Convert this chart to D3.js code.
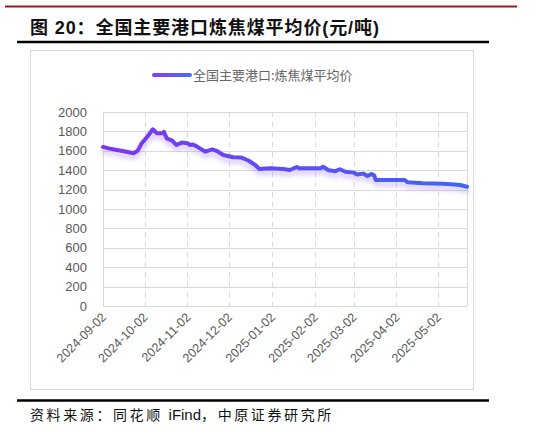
<!DOCTYPE html>
<html>
<head>
<meta charset="utf-8">
<script src="https://cdn.jsdelivr.net/npm/d3@7"></script>
<style>
    body { margin: 0; background: #fff; }
    svg { display: block; }
</style>
</head>
<body>
<div id="chart"></div>
<script>
const title = '图 20：全国主要港口炼焦煤平均价(元/吨)';
const seriesName = '全国主要港口:炼焦煤平均价';
const sourceHead = '资料来源：同花顺 ';
const sourceMid = 'iFind';
const sourceTail = '，中原证券研究所';

// roughly
const dates = [
    '2024-09-02', '2024-09-06', '2024-09-12', '2024-09-19', '2024-09-24', '2024-09-27', '2024-09-30',
    '2024-10-04', '2024-10-08', '2024-10-11', '2024-10-15', '2024-10-16', '2024-10-18', '2024-10-22',
    '2024-10-25', '2024-10-29', '2024-11-02', '2024-11-04', '2024-11-06', '2024-11-09', '2024-11-11',
    '2024-11-15', '2024-11-20', '2024-11-23', '2024-11-28', '2024-12-05', '2024-12-11', '2024-12-16',
    '2024-12-21', '2024-12-24', '2025-01-01', '2025-01-10', '2025-01-15', '2025-01-20', '2025-01-22',
    '2025-02-06', '2025-02-08', '2025-02-12', '2025-02-17', '2025-02-20', '2025-02-24', '2025-03-02',
    '2025-03-05', '2025-03-09', '2025-03-12', '2025-03-15', '2025-03-17', '2025-03-18', '2025-04-08',
    '2025-04-10', '2025-04-21', '2025-05-06', '2025-05-18', '2025-05-23'
];
const prices = [
    1640, 1625, 1608, 1590, 1574, 1600, 1677,
    1745, 1822, 1780, 1780, 1795, 1729, 1705,
    1660, 1685, 1677, 1660, 1665, 1643, 1625,
    1591, 1615, 1600, 1557, 1533, 1530, 1500,
    1454, 1412, 1420, 1412, 1402, 1433, 1419,
    1419, 1436, 1400, 1390, 1410, 1385, 1375,
    1355, 1365, 1340, 1360, 1345, 1300, 1299,
    1275, 1265, 1260, 1247, 1230
];
const yTicks = [0, 200, 400, 600, 800, 1000, 1200, 1400, 1600, 1800, 2000];
const xTickLabels = [
    '2024-09-02', '2024-10-02', '2024-11-02', '2024-12-02', '2025-01-02',
    '2025-02-02', '2025-03-02', '2025-04-02', '2025-05-02'
];
const xDomain = ['2024-09-02', '2025-05-23'];

class PriceChart {
    constructor(selector) {
        this.svg = d3.select(selector)
            .append('svg')
            .attr('width', PriceChart.WIDTH)
            .attr('height', PriceChart.HEIGHT);
    }

    draw() {
        const parse = d3.utcParse('%Y-%m-%d');
        const m = PriceChart.PLOT;

        this.x = d3.scaleUtc()
            .domain(xDomain.map(parse))
            .range([m.left, m.right]);
        this.y = d3.scaleLinear()
            .domain([0, 2000])
            .range([m.bottom, m.top]);

        this.addDefs();
        this.addFrame();
        this.addGrid(parse);
        this.addLine(parse);
        this.addLegend();
    }

    addDefs() {
        const defs = this.svg.append('defs');
        const grad = defs.append('linearGradient')
            .attr('id', 'lineGrad')
            .attr('gradientUnits', 'userSpaceOnUse')
            .attr('x1', PriceChart.PLOT.left).attr('x2', PriceChart.PLOT.right)
            .attr('y1', 0).attr('y2', 0);
        grad.append('stop').attr('offset', '0%').attr('stop-color', '#7d35f0');
        grad.append('stop').attr('offset', '100%').attr('stop-color', '#3f66f5');

        const legendGrad = defs.append('linearGradient')
            .attr('id', 'legendGrad');
        legendGrad.append('stop').attr('offset', '0%').attr('stop-color', '#8a3cf2');
        legendGrad.append('stop').attr('offset', '100%').attr('stop-color', '#4a6cf7');

        defs.append('filter')
            .attr('id', 'glow')
            .attr('x', '-5%').attr('y', '-50%')
            .attr('width', '110%').attr('height', '200%')
            .append('feDropShadow')
            .attr('dx', 0).attr('dy', 4)
            .attr('stdDeviation', 2.5)
            .attr('flood-color', '#9a74f0')
            .attr('flood-opacity', 0.45);
    }

    addFrame() {
        // page rules
        this.svg.append('line')
            .attr('x1', 5).attr('x2', 517).attr('y1', 6.5).attr('y2', 6.5)
            .attr('stroke', '#9b1b1b').attr('stroke-width', 2);
        this.svg.append('text')
            .attr('x', 30).attr('y', 34)
            .attr('font-family', '"Liberation Sans", "Noto Sans CJK SC", sans-serif')
            .attr('font-size', 18)
            .attr('font-weight', 'bold')
            .attr('letter-spacing', 0.9)
            .attr('fill', '#111')
            .text(title);
        this.svg.append('line')
            .attr('x1', 17).attr('x2', 489).attr('y1', 42).attr('y2', 42)
            .attr('stroke', '#000').attr('stroke-width', 2.5);
        this.svg.append('rect')
            .attr('x', 30.5).attr('y', 50.5)
            .attr('width', 443).attr('height', 339)
            .attr('fill', 'none').attr('stroke', '#d9d9d9');
        this.svg.append('line')
            .attr('x1', 17).attr('x2', 489).attr('y1', 400.5).attr('y2', 400.5)
            .attr('stroke', '#000').attr('stroke-width', 2.5);

        const src = this.svg.append('text')
            .attr('x', 30).attr('y', 420)
            .attr('font-family', '"Noto Sans CJK SC", sans-serif')
            .attr('font-size', 14)
            .attr('fill', '#111');
        src.append('tspan').attr('letter-spacing', 2.6).text(sourceHead);
        src.append('tspan').attr('font-family', '"Liberation Sans", Arial, sans-serif')
            .attr('font-size', 15).text(sourceMid);
        src.append('tspan').attr('letter-spacing', 2.6).text(sourceTail);
    }

    addGrid(parse) {
        const m = PriceChart.PLOT;
        const font = '"Liberation Sans", Arial, sans-serif';

        this.svg.append('g')
            .selectAll('line')
            .data(yTicks)
            .join('line')
            .attr('x1', m.left).attr('x2', m.right)
            .attr('y1', (d) => Math.round(this.y(d)) + 0.5)
            .attr('y2', (d) => Math.round(this.y(d)) + 0.5)
            .attr('stroke', '#d9d9d9');

        this.svg.append('g')
            .selectAll('line')
            .data(xTickLabels.slice(1))
            .join('line')
            .attr('x1', (d) => Math.round(this.x(parse(d))) + 0.5)
            .attr('x2', (d) => Math.round(this.x(parse(d))) + 0.5)
            .attr('y1', m.top).attr('y2', m.bottom)
            .attr('stroke', '#d9d9d9')
            .attr('stroke-dasharray', '5,5');

        // left axis and right edge
        [m.left, m.right].forEach((px) => {
            this.svg.append('line')
                .attr('x1', px + 0.5).attr('x2', px + 0.5)
                .attr('y1', m.top).attr('y2', m.bottom)
                .attr('stroke', '#d9d9d9');
        });

        this.svg.append('g')
            .selectAll('text')
            .data(yTicks)
            .join('text')
            .attr('x', m.left - 16)
            .attr('y', (d) => this.y(d))
            .attr('dy', '0.35em')
            .attr('text-anchor', 'end')
            .attr('font-family', font)
            .attr('font-size', 13)
            .attr('fill', '#595959')
            .text((d) => d);

        this.svg.append('g')
            .selectAll('text')
            .data(xTickLabels)
            .join('text')
            .attr('transform', (d) => `translate(${this.x(parse(d)) + 4},${m.bottom + 12}) rotate(-45)`)
            .attr('text-anchor', 'end')
            .attr('font-family', font)
            .attr('font-size', 12.5)
            .attr('fill', '#595959')
            .text((d) => d);
    }

    addLine(parse) {
        const points = dates.map((d, i) => [parse(d), prices[i]]);
        const line = d3.line()
            .x((d) => this.x(d[0]))
            .y((d) => this.y(d[1]));

        this.svg.append('path')
            .datum(points)
            .attr('d', line)
            .attr('fill', 'none')
            .attr('stroke', 'url(#lineGrad)')
            .attr('stroke-width', 4)
            .attr('stroke-linejoin', 'round')
            .attr('stroke-linecap', 'round')
            .attr('filter', 'url(#glow)');
    }

    addLegend() {
        this.svg.append('line')
            .attr('x1', 154).attr('x2', 190).attr('y1', 75).attr('y2', 75.01)
            .attr('stroke', 'url(#legendGrad)')
            .attr('stroke-width', 4)
            .attr('stroke-linecap', 'round');
        this.svg.append('text')
            .attr('x', 193).attr('y', 75)
            .attr('dy', '0.35em')
            .attr('font-family', '"Noto Sans CJK SC", sans-serif')
            .attr('font-size', 13)
            .attr('fill', '#666')
            .text(seriesName);
    }
}

PriceChart.WIDTH = 552;
PriceChart.HEIGHT = 432;
PriceChart.PLOT = { left: 103, right: 467, top: 112, bottom: 306 };  // in pixels

new PriceChart('#chart').draw();
</script>
</body>
</html>
